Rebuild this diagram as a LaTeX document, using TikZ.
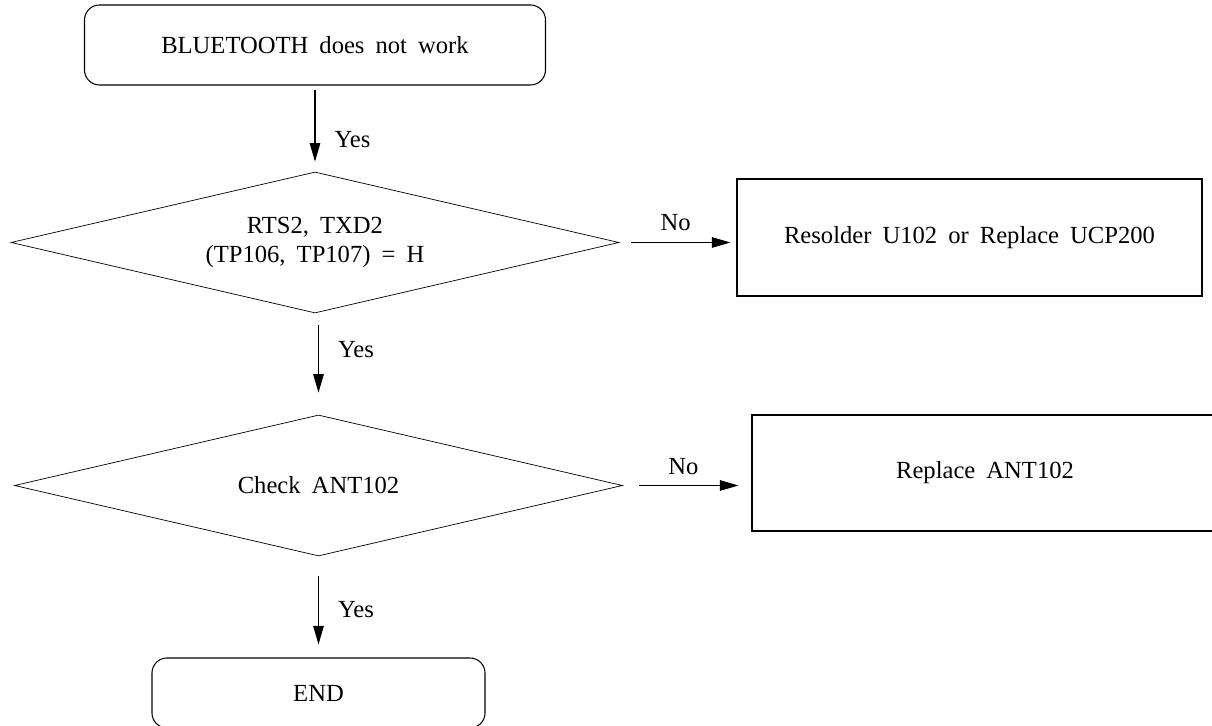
\documentclass[tikz,border=0pt]{standalone}
\usepackage{fontspec}
\setmainfont[WordSpace=1.8]{Liberation Serif}
\usetikzlibrary{arrows.meta,calc,positioning,shapes.geometric}

\begin{document}
\begin{tikzpicture}[
    >={Triangle[length=0.37cm,width=0.21cm]},
    every node/.style={font=\fontsize{14}{16}\selectfont},
    terminal/.style={
        draw,
        line width=0.6pt,
        rounded corners=0.3cm,
        minimum width=9.22cm,
        minimum height=1.6cm,
        align=center
    },
    decision/.style={
        draw,
        diamond,
        line width=0.4pt,
        inner sep=0pt,
        aspect=4.3,
        minimum width=12.16cm,
        minimum height=2.82cm,
        align=center
    },
    action/.style={
        draw,
        line width=0.6pt,
        minimum width=9.3cm,
        minimum height=2.34cm,
        align=center
    },
    flow/.style={->, line width=0.6pt},
    lab/.style={inner sep=0pt}
]

\useasboundingbox (0,0) rectangle (24.24,14.52);

%------------------------------------------------
% Nodes
%------------------------------------------------
\node[terminal] (bt)   at (6.30,13.62) {BLUETOOTH does not work};

\node[decision] (rts)  at (6.30,9.67)  {RTS2, TXD2\\(TP106, TP107) = H};
\node[action]   (fix1) at (19.39,9.77) {\raisebox{-0.12cm}{Resolder U102 or Replace UCP200}};

\node[decision] (ant)  at (6.37,4.81)  {Check ANT102};
\node[action, minimum width=9.32cm, minimum height=2.32cm] (fix2) at (19.70,5.06) {Replace ANT102};

\node[terminal, minimum width=6.66cm, minimum height=1.4cm] (end) at (6.37,0.66) {END};

%------------------------------------------------
% Arrows and labels
%------------------------------------------------
\draw[flow, shorten <=0.08cm, shorten >=0.2cm] (bt.south) --
    node[lab, pos=0.63, right=0.38cm] {Yes}
    (rts.north);

\draw[flow, shorten <=0.24cm, shorten >=0.12cm] (rts.east) --
    node[lab, pos=0.48, above=0.22cm] {No}
    (rts.east -| fix1.west);

\draw[flow, shorten <=0.24cm, shorten >=0.44cm] (rts.south -| ant.north) --
    node[lab, pos=0.36, right=0.38cm] {Yes}
    (ant.north);

\draw[flow, shorten <=0.32cm, shorten >=0.26cm] (ant.east) --
    node[lab, pos=0.47, above=0.2cm] {No}
    (ant.east -| fix2.west);

\draw[flow, shorten <=0.4cm, shorten >=0.26cm] (ant.south) --
    node[lab, pos=0.53, right=0.38cm] {Yes}
    (end.north);

\end{tikzpicture}
\end{document}
